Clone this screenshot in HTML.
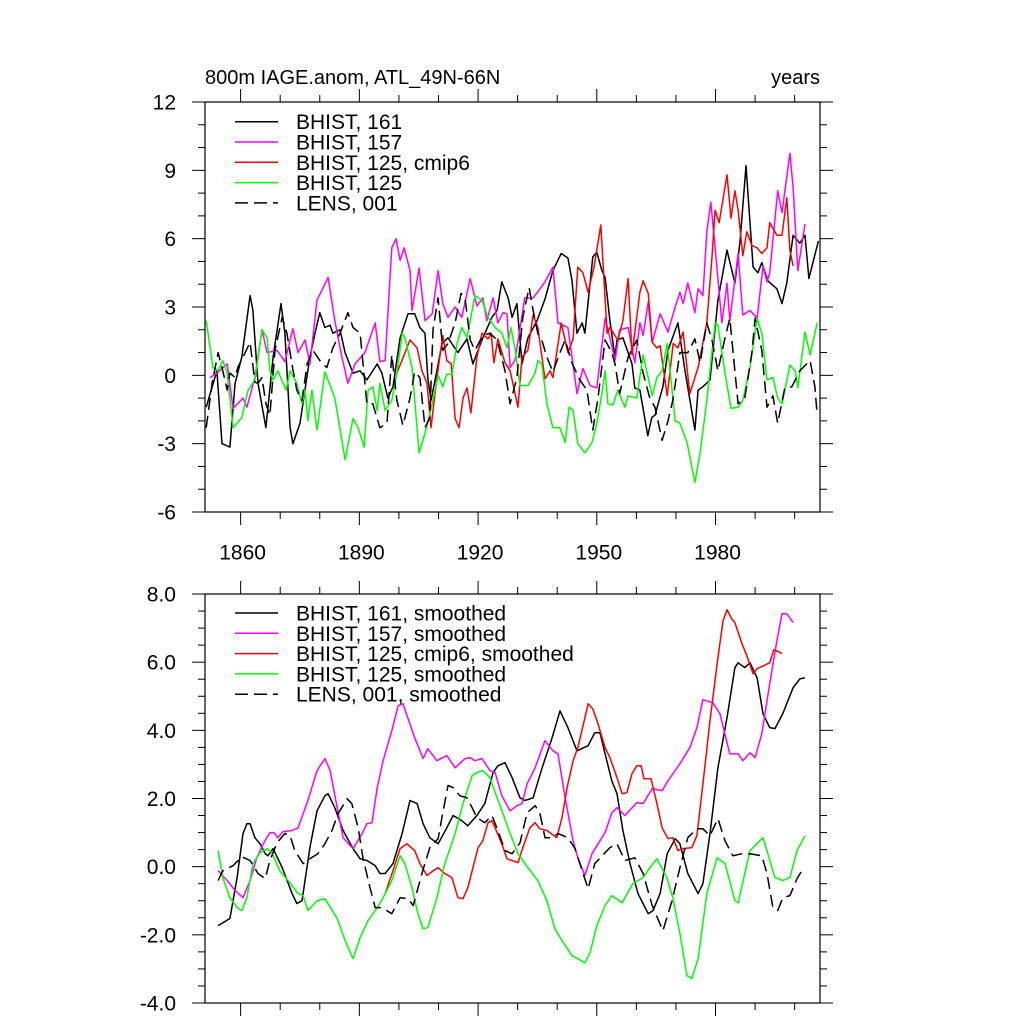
<!DOCTYPE html>
<html><head><meta charset="utf-8"><style>
html,body{margin:0;padding:0;background:#fff;}
svg{display:block;font-family:"Liberation Sans",Arial,sans-serif;}
</style></head><body>
<svg id="chart" width="1024" height="1024" viewBox="0 0 1024 1024" xmlns="http://www.w3.org/2000/svg">
<rect x="0" y="0" width="1024" height="1024" fill="#fff"/>
<text x="205" y="84" font-size="20">800m IAGE.anom, ATL_49N-66N</text>
<text x="820" y="84" font-size="20" text-anchor="end">years</text>
</svg>
<script>
// ---------- TOP PANEL DATA ----------
const topBlackYears=[1851.3,1854,1855.3,1857.3,1858.6,1860.3,1862.4,1863.1,1864.4,1866.4,1868.2,1870.2,1871.2,1872.5,1873.2,1875,1877.5,1878.8,1880,1881.3,1882.6,1883.3,1885.1,1886.4,1888.4,1890.2,1891.9,1894.5,1895.7,1897.2,1898.5,1900.3,1902.3,
1904,1905.3,1906.6,1907.3,1908.1,1909.6,1910.9,1912.4,1914.9,1917.2,1918.7,1921,1923.5,1924.8,1926,1927.6,1928.6,1929.8,1931.1,1932.6,1934.9,1936.9,1938.9,1941,1942.7,1943.7,1945,1946.3,1947,1949,1950,1951.3,1952.1,1953.3,1954.6,
1955.1,1956.6,1958.9,1959.6,1960.9,1962.9,1963.9,1964.7,1966.7,1968,1970.5,1972.3,1974.8,1975.6,1976.8,1978.6,1980.6,1982.9,1984.9,1986.2,1987.7,1989.5,1990.7,1991.7,1993.2,1995.5,1996.8,1998,1999.6,2001.3,2002.6,2003.6,2006];
const topBlackVals=[-1.4,0.2,-3.0,-3.15,-0.35,0.8,3.5,2.85,-0.35,-2.3,0.8,3.15,1.85,-2.3,-3.0,-2.1,0.8,1.85,2.75,2.1,2.2,1.85,2.0,1.0,0.1,0.2,-0.2,0.5,0.1,-1.0,-0.5,1.65,2.7,
2.7,2.1,1.85,-0.1,-1.1,0.2,1.4,1.65,1.0,1.6,0.5,1.55,2.55,2.85,4.1,3.4,2.55,3.15,0.5,1.65,2.4,3.35,4.6,5.35,5.15,4.2,1.85,2.3,1.85,5.2,5.4,4.6,4.3,2.4,0.8,
1.55,1.65,0.5,-0.55,-0.65,-2.65,-1.85,-1.75,-0.5,1.1,2.3,0.2,-2.4,-0.65,-0.5,-0.2,3.3,5.5,4.05,5.9,9.2,4.75,4.5,4.95,4.15,3.8,3.15,4.05,6.15,5.8,6.15,4.25,5.9];

const topMagentaYears=[1852.3,1854,1856.6,1858.1,1860.6,1861.6,1863.6,1865.4,1866.7,1869.2,1871.2,1873.2,1874.5,1876.3,1877.5,1879.3,1882.1,1883.8,1885.6,1887.1,1888.9,1891.4,1894,1895.2,1896.5,1898.2,1899.3,1900.3,1901.3,1902.8,
1903.3,1905.1,1906.6,1908.4,1909.9,1911.1,1912.4,1914.2,1915.9,1918,1919.7,1921.2,1922.2,1923.8,1925,1926.3,1927.3,1928.1,1929.3,1931.8,1933.9,1936.9,1938.9,1940.2,1942.7,1945,1946.5,1948.3,1950,1952.1,1953.3,
1954.6,1955.8,1957.9,1959.6,1960.9,1961.7,1963,1964,1966,1968,1969.7,1971,1971.8,1973,1974.8,1975.6,1976.8,1977.8,1978.8,1979.9,1981.6,1982.9,1983.6,1985.7,1986.9,1988.7,1990.5,1992,1993,1993.7,1995.7,1996.8,1998.8,1999.6,2000.8,2002.6];
const topMagentaVals=[-0.1,0.1,0.5,-1.45,-1.0,-1.4,-0.1,2.0,1.0,1.1,0.6,2.05,1.0,1.55,0.5,3.3,4.3,2.4,0.8,-0.35,0.5,1.0,2.3,0.6,0.65,5.6,6.0,5.05,5.6,4.6,
2.85,4.7,2.4,2.7,4.6,3.15,2.55,3.0,2.55,4.25,3.05,3.4,2.4,3.4,2.3,2.75,2.7,0.35,0.65,3.4,3.4,4.1,4.75,2.3,2.1,-0.8,0.3,-0.45,-0.55,2.5,1.65,
0.65,2.0,2.1,0.55,2.3,1.75,3.2,1.45,2.7,1.9,2.95,3.65,3.15,4.05,2.75,3.8,3.5,6.3,7.6,5.6,2.3,4.05,2.4,5.35,2.65,2.85,2.5,4.8,4.1,4.5,8.1,7.15,9.75,8.25,4.6,6.65];

const topRedYears=[1899.5,1902.8,1904.6,1905.8,1907.1,1908.1,1909.6,1911.1,1912.1,1913.2,1914.2,1915.2,1916.2,1917.2,1918.2,1919.7,1921,1922.5,1923.3,1924,1925,1926.8,1928.1,1930.1,1931.1,1932.6,1933.9,1935.1,1936.9,1938.2,1938.9,1941,1942.7,1944,1945.2,1946.5,1947.8,1949.3,1951,1952.6,1953.3,
1955.3,1956.6,1957.9,1958.9,1960.9,1961.7,1963,1964,1965.2,1966,1967.8,1969.3,1970.5,1971.8,1973.5,1975.6,1977.8,1979.1,1979.9,1980.9,1982.9,1983.9,1984.9,1985.7,1986.9,1987.9,1989.2,1990.5,1991.7,1993,1993.7,1995.5,1996.8,1998,1998.8,1999.6];
const topRedVals=[0.1,1.55,1.2,0.2,-0.35,-2.3,-0.1,1.75,0.65,0.5,-1.9,-2.3,-1.0,-0.55,-1.65,0.8,1.85,1.6,1.85,0.55,1.6,0.55,0.2,-1.4,0.8,1.1,2.65,2.1,-0.15,0.2,-0.1,2.3,1.0,1.6,4.75,4.5,3.65,4.75,6.6,1.85,2.1,
1.55,2.4,4.25,0.9,3.65,4.15,3.6,1.45,1.2,1.3,-0.9,1.4,1.2,1.9,-0.8,0.35,2.3,5.2,7.25,6.7,8.8,6.9,8.1,7.25,5.25,6.3,5.7,5.6,5.35,5.6,6.7,6.15,6.15,7.8,5.5,4.8];

const topGreenYears=[1851.3,1853,1854.3,1855.5,1856.6,1858.1,1860.3,1861.9,1863.6,1865.4,1866.7,1867.4,1868.2,1869.4,1871.5,1872.5,1874.2,1875.5,1876.3,1877,1878,1879.3,1881.3,1883.8,1886.4,1888.4,1889.7,1891.2,1892.2,1893.4,1894.5,1895.2,1896.5,1898.2,1899.5,1900.8,
1901.5,1903.3,1905.1,1906.6,1908.4,1909.9,1911.1,1912.1,1913.4,1914.7,1915.9,1917.2,1919.2,1921,1922.5,1924.3,1926,1927.3,1928.3,1929.3,1930.6,1932.6,1934.4,1935.1,1936.1,1937.4,1938.9,1940.7,1942,1943,1944,1945.2,1947,1948.8,1950,1951.3,1952.1,1952.8,
1954.1,1955.3,1957.1,1957.9,1960.1,1961.7,1964,1965.2,1966.5,1967.8,1969.8,1971,1972.8,1974.8,1976.1,1977.8,1979.9,1980.6,1982.4,1983.9,1985.7,1986.9,1988.7,1990.5,1991.7,1993,1994.5,1995.7,1996.8,1998.8,2000.1,2000.8,2002.6,2003.9,2005.7];
const topGreenVals=[2.4,0.35,0.2,0.65,0.1,-2.3,-1.85,-0.65,-0.2,2.0,1.65,0.2,-0.2,0.2,-0.65,0.2,-0.35,-1.25,-0.65,-2.0,-0.65,-2.4,0.15,-1.0,-3.7,-1.9,-2.3,-3.15,-0.65,-0.5,-1.55,-0.35,-1.55,-1.1,0.1,1.85,
1.65,0.35,-3.4,-2.55,-1.25,0,-0.5,0.05,0.05,1.4,2.1,1.65,3.5,3.3,2.55,2.1,1.85,1.2,2.1,1.2,-0.45,-0.45,0.1,0.65,0.5,-1.25,-2.3,-2.3,-2.95,-1.4,-1.55,-3.0,-3.4,-2.95,-2.1,-0.8,0.2,-1.25,
-1.3,-0.65,-1.4,-0.9,-1.0,0.9,-0.9,-0.1,0.2,1.4,-2.0,-2.1,-2.95,-4.7,-3.4,-1.1,2.3,2.2,0.1,-1.45,-1.4,-1.1,0.35,2.5,1.85,-0.2,-0.1,-1.0,-1.25,0.45,0.2,-0.55,1.9,0.9,2.3];

const topLensYears=[1851.3,1852.8,1854.3,1855.5,1856.6,1857.3,1858.6,1859.3,1860.6,1862.4,1863.6,1864.4,1865.4,1866.4,1867.4,1868.7,1870.5,1871.7,1873,1874.2,1875.5,1876.8,1878.3,1880.6,1881.8,1883.3,1885.1,1887.1,1888.4,1890.2,1891.9,1893.4,1895.2,1897,1898.2,1899.5,1901,1902.8,
1904,1905.3,1906.6,1907.8,1908.6,1909.9,1911.1,1912.4,1914.2,1915.7,1916.7,1918,1919.2,1921.2,1923,1924.8,1926.8,1928.1,1929.8,1931.3,1932.9,1933.9,1935.1,1936.1,1937.4,1938.9,1940.7,1942,1943.7,1945.7,1947.5,1949,1950.3,1952.1,
1953.8,1954.6,1955.8,1957.9,1960.1,1961.7,1963.4,1964.7,1966.5,1968,1969.2,1971,1973,1974.8,1976.1,1977.8,1979.1,1980.6,1982.4,1983.6,1985.7,1987.4,1989.2,1990,1991.7,1993,1994.5,1995.7,1997.5,1999.3,2001.3,2003.9,2005.1,2005.6];
const topLensVals=[-2.3,-0.35,1.0,0.2,-0.65,0.1,-0.1,0.35,0.8,1.45,-0.3,-0.35,-0.1,-1.25,-1.75,1.1,2.55,1.85,0.45,-0.65,-1.1,0.5,1.1,0.5,0.35,1.2,1.85,2.75,2.1,1.85,-1.25,-1.25,-2.3,-2.1,0.9,-1.1,-2.2,-1.0,
0.15,-0.1,-2.3,-1.85,2.0,3.4,1.1,1.4,2.3,3.6,3.4,1.55,1.1,1.75,1.85,1.55,0.2,-1.25,-0.1,2.55,3.85,2.85,1.85,1.55,0.8,0.15,1.0,1.55,0.55,-0.2,-0.65,-2.4,-1.0,1.55,
1.0,0.5,-0.8,0.8,1.55,0.1,-1.0,-1.4,-2.85,-2.0,-1.1,1.0,1.0,1.6,0.55,2.3,1.55,0.2,1.65,2.5,-1.25,-1.0,1.0,2.5,1.1,-1.4,-0.9,-2.1,-0.55,-0.5,0.2,0.65,-0.5,-1.55];

// ---------- BOTTOM PANEL DATA (smoothed) ----------
const botBlackYears=[1854.3,1857.3,1859.1,1860.6,1861.6,1862.4,1863.6,1864.9,1866.2,1866.9,1868.2,1870.5,1873,1874.2,1875.5,1877.5,1879.3,1881.3,1882.1,1883.8,1885.9,1888.4,1890.2,1891.9,1894,1895.2,1896.5,1898.5,1900.8,1902.8,1904.6,1906.1,1907.8,1909.9,1912.1,1913.7,1915.9,1917.4,1919.7,1921.7,1923.8,1925,1926.8,1928.6,1930.6,1931.8,1933.9,1936.1,1938.7,1940.7,1942.7,1945,1947.8,1949.5,1950.8,1952.1,1953.8,1955.1,1956.6,1958.4,1960.4,1963,1964.2,1966,1967.8,1969.8,1971,1973,1975.6,1976.8,1978.6,1980.6,1982.9,1984.9,1985.7,1987.4,1988.7,1990.5,1992,1993.7,1995,1997,1999.6,2001.3,2002.6];
const botBlackVals=[-1.73,-1.52,-0.32,0.97,1.26,1.26,0.85,0.67,0.38,0.32,0.53,-0.03,-0.79,-1.08,-1.0,0.56,1.64,2.08,2.14,1.73,1.06,0.53,0.23,0.18,0.03,-0.2,-0.2,0.09,0.97,1.94,1.85,1.26,0.85,0.67,1.14,1.5,1.35,1.2,1.5,1.85,2.76,2.96,3.05,2.61,2.02,1.94,2.02,2.87,3.78,4.57,4.08,3.4,3.55,3.93,3.93,3.31,2.52,2.14,1.06,0.09,-0.79,-1.38,-1.29,-0.79,0.38,0.82,0.67,-0.2,-0.79,-0.5,0.97,2.9,4.37,5.84,5.98,5.84,5.98,5.54,4.49,4.08,4.05,4.49,5.25,5.51,5.54];

const botMagentaYears=[1854.3,1856.6,1858.6,1860.6,1862.4,1864.1,1865.7,1867.4,1868.4,1869.4,1870.7,1873,1874.5,1877,1879.3,1881.3,1882.6,1884.4,1885.9,1888.4,1890.7,1891.9,1893.2,1894.5,1896,1898.2,1899.8,1901,1904,1906.1,1907.3,1909.6,1912.1,1914.2,1916.7,1918,1919.2,1921,1923,1924.3,1926,1928.1,1929.8,1931.1,1932.4,1934.4,1936.9,1938.9,1940.2,1942,1944,1945.2,1947,1948.8,1950.3,1952.1,1953.8,1955.1,1957.1,1960.1,1961.7,1964,1966.5,1968,1971,1973.5,1975.3,1976.8,1979.3,1981.1,1983.6,1985.7,1986.9,1988.7,1990,1991.7,1993.7,1995.5,1996.8,1998,1999.6];
const botMagentaVals=[-0.12,-0.41,-0.7,-0.91,-0.41,0.26,0.67,1.0,1.0,0.85,1.03,1.06,1.14,1.94,2.82,3.17,2.82,1.73,0.85,0.53,0.97,1.26,1.29,2.32,3.11,3.99,4.72,4.78,3.78,3.17,3.46,3.11,3.26,2.9,3.17,3.2,3.11,3.17,2.82,2.76,2.08,1.64,1.79,1.85,2.43,2.9,3.7,3.4,3.31,2.02,0.76,0.26,-0.26,0.38,0.67,1.0,1.58,1.73,1.5,1.88,1.85,2.29,2.23,2.52,3.02,3.49,4.08,4.9,4.81,4.49,3.31,3.31,3.11,3.34,3.2,3.9,5.37,6.63,7.42,7.42,7.16];

const botRedYears=[1896.5,1898.5,1900.3,1902,1904,1905.3,1907.1,1908.6,1909.9,1911.6,1913.4,1914.9,1916.2,1917.4,1918.7,1920,1921.2,1922.5,1923.5,1924.8,1926,1927.3,1930.1,1931.3,1933.1,1934.4,1935.6,1937.4,1939.9,1941.2,1942.5,1944,1945.2,1947,1947.8,1949,1950.3,1952.1,1953.3,1955.1,1956.4,1957.6,1958.9,1960.1,1961.2,1961.9,1963.7,1965.2,1966.5,1968,1969.2,1970.5,1971.8,1974,1975.3,1976.8,1978.6,1980.4,1981.9,1982.9,1984.1,1984.9,1986.7,1987.9,1989.5,1990.5,1992,1993.7,1994.7,1995.5,1996.8];
const botRedVals=[-0.79,-0.12,0.53,0.67,0.47,0.09,-0.26,-0.12,-0.03,-0.2,-0.32,-0.91,-0.94,-0.62,-0.03,0.56,0.76,1.29,1.35,1.0,0.67,0.23,0.12,0.56,1.14,1.29,1.11,1.06,0.85,1.44,2.32,3.11,3.49,4.37,4.78,4.63,4.19,3.49,3.2,2.61,2.14,2.17,2.73,2.96,2.96,2.58,2.58,1.85,1.14,0.82,0.85,0.47,0.53,0.56,0.91,2.43,4.28,5.95,7.21,7.54,7.27,7.16,6.54,6.19,5.66,5.81,5.89,5.98,6.36,6.33,6.25];

const botGreenYears=[1854.3,1855.5,1857.3,1859.1,1860.3,1861.6,1863.1,1864.9,1866.7,1867.9,1869.9,1872,1874.5,1875.8,1877,1879.3,1881.3,1884.4,1886.4,1888.4,1890.2,1892.2,1894.5,1896,1898.2,1900.3,1901.5,1903.3,1904.8,1906.1,1907.3,1909.6,1911.6,1914.2,1916.2,1918.5,1919.7,1921.2,1923,1924.8,1926.3,1928.1,1930.1,1932.6,1935.1,1937.4,1939.4,1941.2,1943.7,1945.2,1947,1948.3,1950,1952.1,1953.8,1956.4,1959.1,1961.7,1963.4,1965.2,1967.7,1969.2,1971,1972.8,1974,1975.6,1977.8,1980.4,1982.4,1984.9,1985.7,1988.7,1992,1993.2,1995,1997,1998.8,2000.6,2002.6];
const botGreenVals=[0.47,-0.32,-0.91,-1.2,-1.29,-0.91,0.09,0.41,0.53,0.41,-0.12,-0.41,-0.79,-0.85,-1.29,-1.0,-0.94,-1.52,-2.17,-2.7,-2.08,-1.58,-1.2,-0.91,-0.41,0.32,0.09,-0.62,-1.38,-1.82,-1.79,-0.91,0.09,0.97,1.85,2.67,2.76,2.82,2.61,2.02,1.55,0.97,0.38,-0.03,-0.41,-1.0,-1.82,-2.17,-2.61,-2.7,-2.82,-2.52,-1.73,-1.14,-0.85,-1.06,-0.5,-0.32,-0.03,0.23,-0.32,-0.91,-1.96,-3.2,-3.28,-2.7,-0.79,0.26,0.09,-1.0,-1.06,0.47,0.85,0.38,-0.32,-0.41,-0.32,0.47,0.91];

const botLensYears=[1854.3,1855.5,1858.1,1860.3,1862.4,1864.4,1866.2,1867.4,1869.2,1871.2,1872.5,1873.7,1875.8,1877.5,1879.5,1881.3,1883.1,1884.6,1886.9,1888.1,1889.7,1890.9,1892.7,1894,1895.7,1898.2,1900.3,1902.3,1903.6,1905.8,1907.8,1909.9,1911.1,1912.4,1913.7,1915.4,1917.2,1918.5,1919.7,1921.7,1923.5,1925,1926.8,1928.6,1930.6,1932.4,1934.4,1935.6,1936.9,1938.7,1940.2,1942.7,1944.5,1946.3,1947.8,1949.5,1952.1,1953.3,1955.1,1957.1,1959.6,1961.7,1964,1966.7,1969,1971,1973,1975.3,1976.8,1978.6,1980.6,1982.4,1984.4,1986.7,1988.7,1991.7,1993,1994.5,1995.7,1997,1998.8,2000.6,2001.8,2002.6];
const botLensVals=[-0.41,-0.12,0.03,0.29,0.18,-0.2,-0.35,0.18,0.7,0.97,0.91,0.47,0.09,0.23,0.38,0.67,1.06,1.55,1.99,1.85,1.14,0.26,-0.62,-1.2,-1.2,-1.38,-0.91,-0.94,-1.14,-0.2,0.56,0.82,1.58,2.38,2.32,2.08,2.02,1.73,1.44,1.29,1.5,1.06,0.47,0.38,0.7,1.58,1.79,1.58,0.85,0.85,0.97,0.85,0.53,-0.12,-0.65,0.09,0.41,0.56,0.67,0.18,0.26,-0.2,-1.14,-1.88,-1.0,-0.03,0.85,1.11,1.11,0.91,1.41,0.76,0.32,0.38,0.38,0.32,-0.2,-1.2,-1.29,-0.91,-0.85,-0.35,-0.12,-0.2];

// ---------- AXES / TICKS ----------
const xTickYears=[1860,1890,1920,1950,1980];
const topYTicks=[12,9,6,3,0,-3,-6];
const topYTickLabels=["12","9","6","3","0","-3","-6"];
const botYTicks=[8,6,4,2,0,-2,-4];
const botYTickLabels=["8.0","6.0","4.0","2.0","0.0","-2.0","-4.0"];
const topLegendLabels=["BHIST, 161","BHIST, 157","BHIST, 125, cmip6","BHIST, 125","LENS, 001"];
const botLegendLabels=["BHIST, 161, smoothed","BHIST, 157, smoothed","BHIST, 125, cmip6, smoothed","BHIST, 125, smoothed","LENS, 001, smoothed"];

const NS="http://www.w3.org/2000/svg";
const svg=document.getElementById('chart');
const XL=205,XR=820,YEAR0=1851,YEAR1=2006.4;
function sx(y){return XL+(y-YEAR0)/(YEAR1-YEAR0)*(XR-XL);}
function mkScaleY(vmin,vmax,pxBottom,pxTop){return v=>pxBottom-(v-vmin)/(vmax-vmin)*(pxBottom-pxTop);}
const panels=[
 {id:'top',top:102,bottom:512,vmin:-6,vmax:12,minorStep:1,yt:topYTicks,ytl:topYTickLabels,legend:topLegendLabels,legY:121.7,xlabels:true,
  series:[[topBlackYears,topBlackVals,'#000',null,'bhist-161'],[topMagentaYears,topMagentaVals,'#ff00ff',null,'bhist-157'],[topRedYears,topRedVals,'#ff0000',null,'bhist-125-cmip6'],[topGreenYears,topGreenVals,'#00ff00',null,'bhist-125'],[topLensYears,topLensVals,'#000','12 6','lens-001']]},
 {id:'bottom',top:594,bottom:1003,vmin:-4,vmax:8,minorStep:0.5,yt:botYTicks,ytl:botYTickLabels,legend:botLegendLabels,legY:613,xlabels:false,
  series:[[botBlackYears,botBlackVals,'#000',null,'bhist-161-smoothed'],[botMagentaYears,botMagentaVals,'#ff00ff',null,'bhist-157-smoothed'],[botRedYears,botRedVals,'#ff0000',null,'bhist-125-cmip6-smoothed'],[botGreenYears,botGreenVals,'#00ff00',null,'bhist-125-smoothed'],[botLensYears,botLensVals,'#000','12 6','lens-001-smoothed']]}
];
const legColors=['#000','#ff00ff','#ff0000','#00ff00','#000'];
const legDash=[null,null,null,null,'12 6'];
function el(tag,attrs,parent){const e=document.createElementNS(NS,tag);for(const k in attrs)e.setAttribute(k,attrs[k]);(parent||svg).appendChild(e);return e;}

panels.forEach(p=>{
  const sy=mkScaleY(p.vmin,p.vmax,p.bottom,p.top);
  const g=el('g',{});
  
  
  const cp=el('clipPath',{id:'clip-'+p.id},g);
  el('rect',{x:XL,y:p.top,width:XR-XL,height:p.bottom-p.top},cp);
  p.series.forEach(s=>{
    const [ys,vs,col,dash,name]=s;
    const n=Math.min(ys.length,vs.length);
    let d='';
    for(let i=0;i<n;i++){d+=(i?'L':'M')+sx(ys[i]).toFixed(1)+','+sy(vs[i]).toFixed(1);}
    const path=el('path',{d:d,fill:'none',stroke:col,'stroke-width':1.5,'stroke-linejoin':'round','clip-path':'url(#clip-'+p.id+')'},g);
    if(dash)path.setAttribute('stroke-dasharray',dash);
    
    
  });
  const fr=el('rect',{x:XL,y:p.top,width:XR-XL,height:p.bottom-p.top,fill:'none',stroke:'#000','stroke-width':1.2},g);
  
  
  for(let v=p.vmin;v<=p.vmax+1e-9;v+=p.minorStep){
    const y=sy(v);
    const isMajor=p.yt.some(t=>Math.abs(t-v)<1e-6);
    const L=isMajor?13:7;
    el('line',{x1:XL-L,y1:y,x2:XL,y2:y,stroke:'#000','stroke-width':1},g);
    el('line',{x1:XR,y1:y,x2:XR+L,y2:y,stroke:'#000','stroke-width':1},g);
  }
  p.yt.forEach((t,i)=>{
    const tx=el('text',{x:176,y:sy(t)+7.5,'font-size':21,'text-anchor':'end'},g);
    tx.textContent=p.ytl[i];
    
    
  });
  for(let yr=1850;yr<=2010;yr+=10){
    const x=sx(yr); if(x<XL-0.5||x>XR+0.5)continue;
    const isMajor=xTickYears.includes(yr);
    const L=isMajor?13:7;
    el('line',{x1:x,y1:p.bottom,x2:x,y2:p.bottom+L,stroke:'#000','stroke-width':1},g);
    el('line',{x1:x,y1:p.top-L,x2:x,y2:p.top,stroke:'#000','stroke-width':1},g);
  }
  if(p.xlabels){
    xTickYears.forEach(yr=>{
      const tx=el('text',{x:sx(yr)+2,y:559.5,'font-size':21,'text-anchor':'middle'},g);
      tx.textContent=String(yr);
      
      
    });
  }
  p.legend.forEach((lab,i)=>{
    const y=p.legY+i*20.3;
    const ln=el('line',{x1:235,y1:y,x2:278,y2:y,stroke:legColors[i],'stroke-width':1.5},g);
    if(legDash[i])ln.setAttribute('stroke-dasharray','13 6');
    
    
    const tx=el('text',{x:296,y:y+7.5,'font-size':21},g);
    tx.textContent=lab;
    
    
  });
});
</script>
</body></html>
